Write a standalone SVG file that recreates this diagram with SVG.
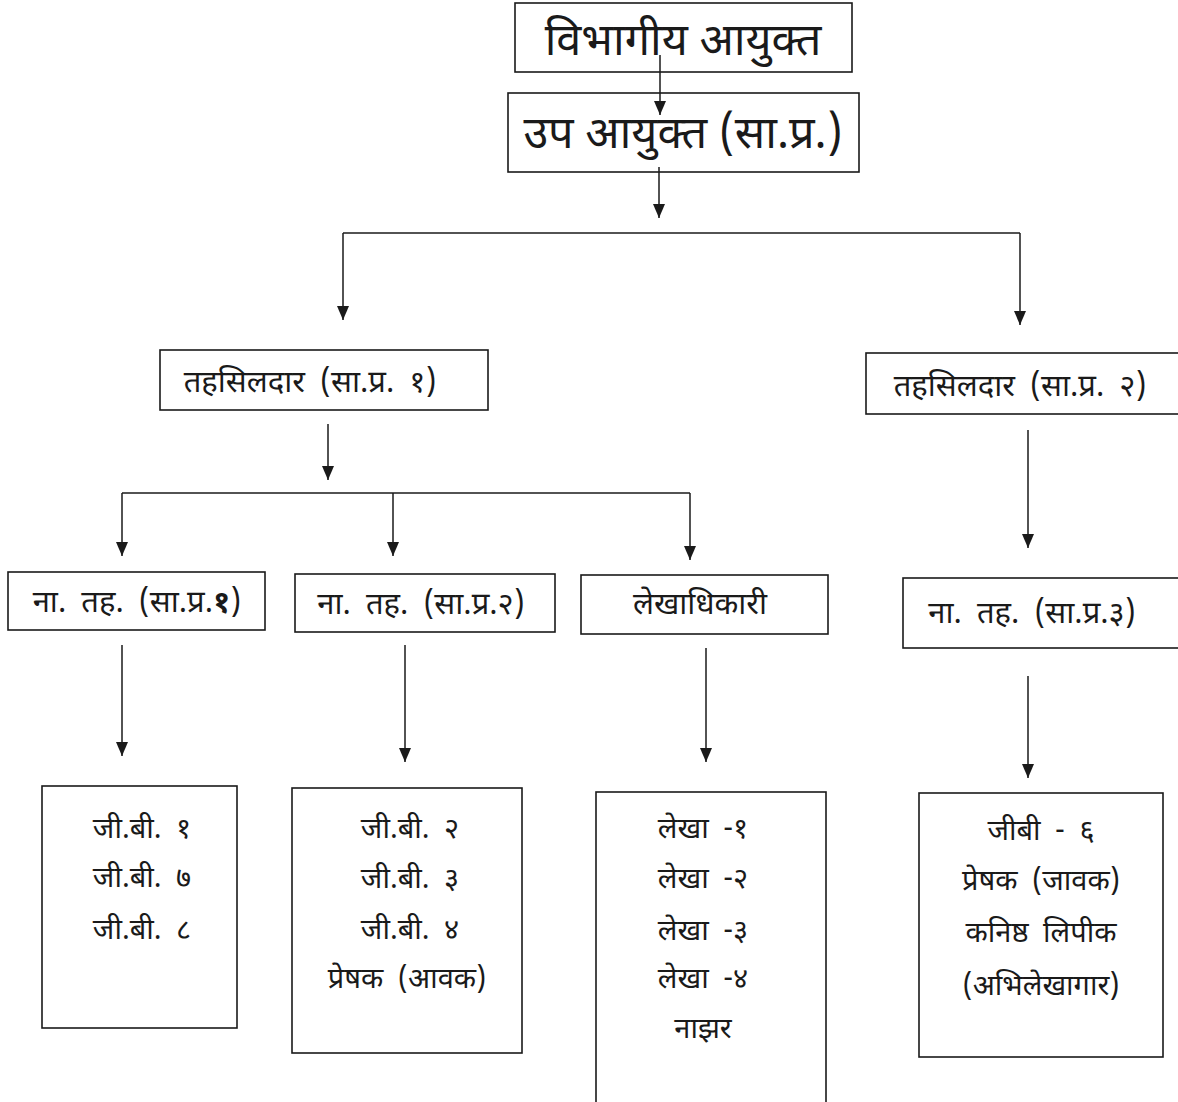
<svg xmlns="http://www.w3.org/2000/svg" width="1178" height="1102" viewBox="0 0 1178 1102">
<defs>
<marker id="ah" markerWidth="14" markerHeight="12" refX="14" refY="6" orient="auto" markerUnits="userSpaceOnUse" viewBox="0 0 14 12">
<path d="M0,0 L14,6 L0,12 Z" fill="#1a1a1a"/>
</marker>
<style>
.box{fill:#fff;stroke:#1a1a1a;stroke-width:1.6}
.t{font-family:"Noto Sans Devanagari","Lohit Devanagari","Noto Sans","Liberation Sans",sans-serif;fill:#1a1a1a;text-anchor:middle}
.big{font-size:45px}
.mid{font-size:31px;word-spacing:7px}
.sm{font-size:29px;word-spacing:7px}
.ln{fill:none;stroke:#1a1a1a;stroke-width:1.5}
.ar{fill:none;stroke:#1a1a1a;stroke-width:1.5;marker-end:url(#ah)}
</style>
</defs>
<rect width="1178" height="1102" fill="#fff"/>
<g id="n1"><rect class="box" x="515" y="3" width="337" height="69"/><text class="t big" x="683" y="55">विभागीय आयुक्त</text></g>
<g id="n2"><rect class="box" x="508" y="93" width="351" height="79"/><text class="t big" x="683" y="148">उप आयुक्त (सा.प्र.)</text></g>
<g id="n3"><rect class="box" x="160" y="350" width="328" height="60"/><text class="t mid" x="310" y="392">तहसिलदार (सा.प्र. १)</text></g>
<g id="n4"><rect class="box" x="866" y="353" width="320" height="61"/><text class="t mid" x="1020" y="396">तहसिलदार (सा.प्र. २)</text></g>
<g id="n5"><rect class="box" x="8" y="572" width="257" height="58"/><text class="t mid" x="137" y="612">ना. तह. (सा.प्र.<tspan font-weight="bold">१</tspan>)</text></g>
<g id="n6"><rect class="box" x="295" y="574" width="260" height="58"/><text class="t mid" x="421" y="614">ना. तह. (सा.प्र.२)</text></g>
<g id="n7"><rect class="box" x="581" y="575" width="247" height="59"/><text class="t mid" x="700" y="614">लेखाधिकारी</text></g>
<g id="n8"><rect class="box" x="903" y="578" width="285" height="70"/><text class="t mid" x="1032" y="623">ना. तह. (सा.प्र.३)</text></g>
<g id="n9"><rect class="box" x="42" y="786" width="195" height="242"/>
<text class="t sm" x="142" y="838">जी.बी. १</text>
<text class="t sm" x="142" y="887">जी.बी. ७</text>
<text class="t sm" x="142" y="939">जी.बी. ८</text></g>
<g id="n10"><rect class="box" x="292" y="788" width="230" height="265"/>
<text class="t sm" x="410" y="838">जी.बी. २</text>
<text class="t sm" x="410" y="888">जी.बी. ३</text>
<text class="t sm" x="410" y="939">जी.बी. ४</text>
<text class="t sm" x="407" y="988">प्रेषक (आवक)</text></g>
<g id="n11"><rect class="box" x="596" y="792" width="230" height="312"/>
<text class="t sm" x="703" y="838">लेखा -१</text>
<text class="t sm" x="703" y="888">लेखा -२</text>
<text class="t sm" x="703" y="940">लेखा -३</text>
<text class="t sm" x="703" y="988">लेखा -४</text>
<text class="t sm" x="703" y="1038">नाझर</text></g>
<g id="n12"><rect class="box" x="919" y="793" width="244" height="264"/>
<text class="t sm" x="1041" y="840">जीबी - ६</text>
<text class="t sm" x="1041" y="890">प्रेषक (जावक)</text>
<text class="t sm" x="1041" y="942">कनिष्ठ लिपीक</text>
<text class="t sm" x="1041" y="995">(अभिलेखागार)</text></g>
<g id="connectors">
<path class="ar" d="M660,55 V115"/>
<path class="ar" d="M659,167 V218"/>
<path class="ln" d="M343,233 H1020"/>
<path class="ar" d="M343,233 V320"/>
<path class="ar" d="M1020,233 V325"/>
<path class="ar" d="M328,424 V480"/>
<path class="ln" d="M122,493 H690"/>
<path class="ar" d="M122,493 V556"/>
<path class="ar" d="M393,493 V556"/>
<path class="ar" d="M690,493 V560"/>
<path class="ar" d="M1028,430 V548"/>
<path class="ar" d="M122,645 V756"/>
<path class="ar" d="M405,645 V762"/>
<path class="ar" d="M706,648 V762"/>
<path class="ar" d="M1028,676 V778"/>
</g>
</svg>
